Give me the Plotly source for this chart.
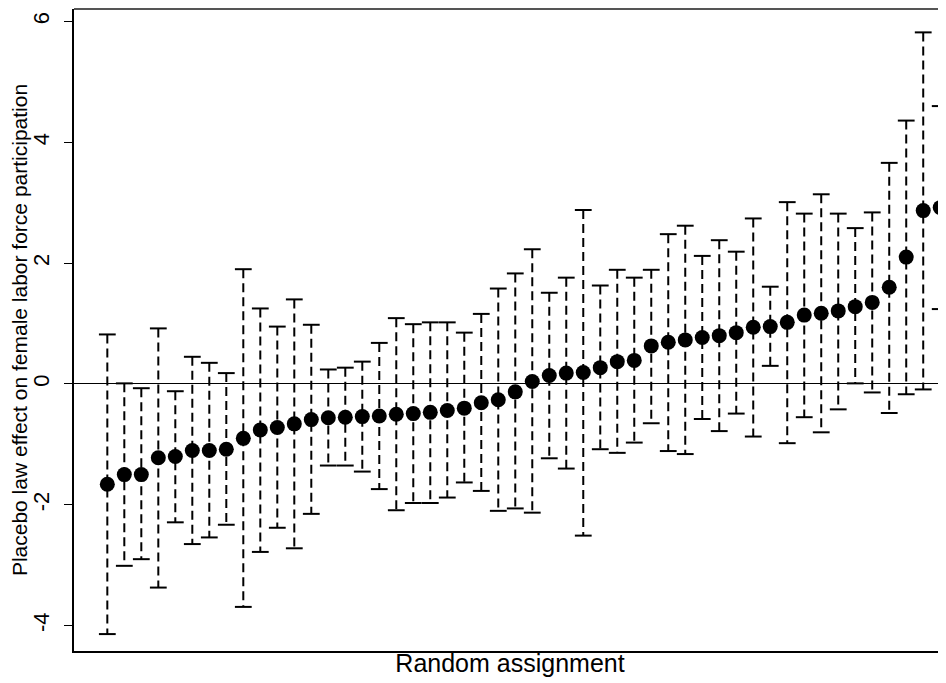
import plotly.graph_objects as go

# Placebo estimates sorted, with 95% CI bounds
assignment = list(range(1, 51))
estimate = [-1.66, -1.50, -1.50, -1.22, -1.20, -1.10, -1.10, -1.08, -0.90, -0.76,
            -0.72, -0.66, -0.59, -0.56, -0.55, -0.54, -0.53, -0.50, -0.49, -0.47,
            -0.44, -0.40, -0.31, -0.26, -0.13, 0.04, 0.14, 0.18, 0.19, 0.27,
            0.37, 0.39, 0.63, 0.69, 0.73, 0.77, 0.80, 0.85, 0.94, 0.95,
            1.02, 1.14, 1.17, 1.21, 1.28, 1.35, 1.60, 2.10, 2.87, 2.92]
upper = [0.82, 0.01, -0.07, 0.92, -0.12, 0.45, 0.35, 0.18, 1.90, 1.25,
         0.95, 1.40, 0.98, 0.24, 0.27, 0.37, 0.68, 1.09, 0.99, 1.02,
         1.02, 0.85, 1.16, 1.58, 1.83, 2.23, 1.51, 1.76, 2.88, 1.63,
         1.89, 1.76, 1.89, 2.48, 2.62, 2.12, 2.38, 2.19, 2.74, 1.61,
         3.01, 2.82, 3.14, 2.82, 2.58, 2.84, 3.66, 4.36, 5.82, 4.60]
lower = [-4.14, -3.01, -2.90, -3.37, -2.29, -2.65, -2.54, -2.33, -3.69, -2.78,
         -2.38, -2.72, -2.15, -1.35, -1.35, -1.45, -1.74, -2.09, -1.97, -1.97,
         -1.88, -1.63, -1.77, -2.10, -2.06, -2.13, -1.23, -1.40, -2.51, -1.08,
         -1.14, -0.97, -0.65, -1.11, -1.16, -0.58, -0.78, -0.49, -0.87, 0.30,
         -0.98, -0.55, -0.80, -0.42, 0.01, -0.14, -0.48, -0.17, -0.09, 1.24]
y_ticks = [-4, -2, 0, 2, 4, 6]

# Build dashed CI segments
seg_x, seg_y = [], []
for x, lo, hi in zip(assignment, lower, upper):
    seg_x += [x, x, None]
    seg_y += [hi, lo, None]

fig = go.Figure()
fig.add_trace(go.Scatter(
    x=seg_x, y=seg_y, mode="lines",
    line=dict(color="black", width=2, dash="9px,5px"),
    hoverinfo="skip", showlegend=False))
fig.add_trace(go.Scatter(
    x=assignment + assignment, y=upper + lower, mode="markers",
    marker=dict(symbol="line-ew", size=12, line=dict(color="black", width=2)),
    hoverinfo="skip", showlegend=False))
fig.add_trace(go.Scatter(
    x=assignment, y=estimate, mode="markers",
    marker=dict(symbol="circle", size=15, color="black"),
    showlegend=False))

fig.add_shape(type="line", xref="paper", yref="paper", x0=0, x1=1, y0=1, y1=1,
              line=dict(color="#555555", width=2))

fig.update_layout(
    width=938, height=675,
    margin=dict(l=66, r=0, t=1, b=32),
    plot_bgcolor="white", paper_bgcolor="white",
    font=dict(family="Liberation Sans, Arial, Helvetica, sans-serif", color="black"),
    xaxis=dict(
        range=[-0.96, 50.34], showgrid=False, zeroline=False,
        showticklabels=False, ticks="",
        showline=True, linecolor="black", linewidth=2,
        title=dict(text="Random assignment", font=dict(size=25), standoff=2),
    ),
    yaxis=dict(
        range=[-4.42, 6.207], showgrid=False,
        tickvals=y_ticks, ticktext=[str(t) for t in y_ticks],
        tickangle=-90, tickfont=dict(size=22), ticklabelstandoff=6,
        ticks="outside", ticklen=8, tickwidth=1, tickcolor="black",
        showline=True, linecolor="black", linewidth=2,
        zeroline=True, zerolinecolor="black", zerolinewidth=1,
        title=dict(text="Placebo law effect on female labor force participation",
                   font=dict(size=21), standoff=2),
    ),
)

fig.write_html("out.html")
